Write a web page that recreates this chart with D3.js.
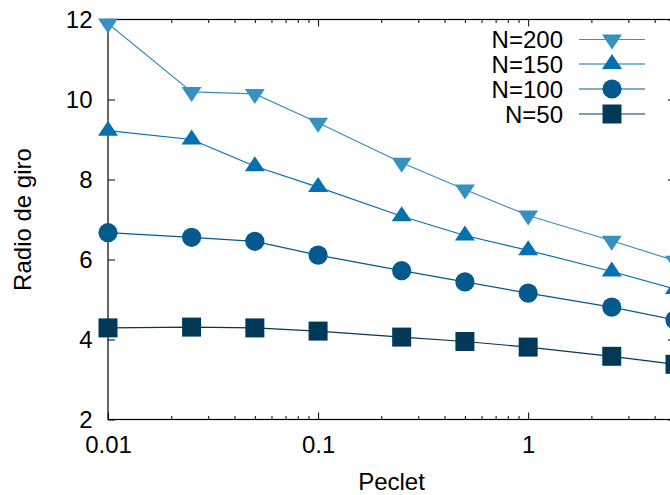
<!DOCTYPE html>
<html>
<head>
<meta charset="utf-8">
<script src="https://cdn.jsdelivr.net/npm/d3@7"></script>
<style>
  html, body { margin: 0; padding: 0; background: #fff; }
  svg { display: block; }
  text { font-family: "Liberation Sans", Arial, Helvetica, sans-serif; font-size: 24px; fill: #000; }
</style>
</head>
<body>
<svg id="chart" width="670" height="495"></svg>
<script>
// Peclet numbers (x) and radius of gyration for each chain length
const peclet = [0.01, 0.025, 0.05, 0.1, 0.25, 0.5, 1, 2.5, 5];
const rg200 = [11.9, 10.19, 10.14, 9.42, 8.42, 7.75, 7.10, 6.47, 5.97];
const rg150 = [9.22, 9.00, 8.33, 7.81, 7.08, 6.60, 6.23, 5.70, 5.26];
const rg100 = [6.67, 6.555, 6.455, 6.11, 5.72, 5.44, 5.16, 4.81, 4.49];
const rg50  = [4.29, 4.31, 4.29, 4.21, 4.06, 3.95, 3.81, 3.58, 3.38];

const seriesNames = ["N=200", "N=150", "N=100", "N=50"];
const seriesValues = [rg200, rg150, rg100, rg50];
const seriesColors = ["#3690c0", "#0570b0", "#045a8d", "#023858"];
const seriesSymbols = ["triangleDown", "triangleUp", "circle", "square"];

const xTickValues = [0.01, 0.1, 1];
const xTickLabels = ["0.01", "0.1", "1"];
const yTickValues = [2, 4, 6, 8, 10, 12];
const xDomain = [0.01, 5];
const yDomain = [2, 12];

const svg = d3.select("#chart");
const plotLeft = 108, plotRight = 675, plotTop = 19.5, plotBottom = 419.5;

const x = d3.scaleLog().domain(xDomain).range([plotLeft, plotRight]);
const y = d3.scaleLinear().domain(yDomain).range([plotBottom, plotTop]);

const xMinor = x.ticks().filter(v => !xTickValues.some(t => Math.abs(t - v) < 1e-9));

// marker shapes, centred on the data point
function symbolPath(kind) {
  switch (kind) {
    case "triangleDown": return "M0,10L-10,-5L10,-5Z";
    case "triangleUp":   return "M0,-10L-10,5L10,5Z";
    case "square":       return "M-9.5,-9.5H9.5V9.5H-9.5Z";
    default:             return d3.symbol(d3.symbolCircle, Math.PI * 9.6 * 9.6)();
  }
}

const axisStyle = g => {
  g.select(".domain").remove();
  g.selectAll("line").attr("stroke", "#000").attr("stroke-width", 1);
};
const plainText = g => g.selectAll("text").attr("font-size", null).attr("font-family", null);

// bottom axis: major ticks with labels, inward ticks
svg.append("g").attr("transform", `translate(0,${plotBottom})`)
  .call(d3.axisBottom(x).tickValues(xTickValues).tickFormat((d, i) => xTickLabels[i])
    .tickSize(-7).tickPadding(16.5))
  .call(axisStyle)
  .call(plainText);
svg.append("g").attr("transform", `translate(0,${plotBottom})`)
  .call(d3.axisBottom(x).tickValues(xMinor).tickFormat("").tickSize(-3.5))
  .call(axisStyle);
// top mirror ticks
svg.append("g").attr("transform", `translate(0,${plotTop})`)
  .call(d3.axisTop(x).tickValues(xTickValues).tickFormat("").tickSize(-7))
  .call(axisStyle);
svg.append("g").attr("transform", `translate(0,${plotTop})`)
  .call(d3.axisTop(x).tickValues(xMinor).tickFormat("").tickSize(-3.5))
  .call(axisStyle);

// left axis with labels, right mirror ticks
svg.append("g").attr("transform", `translate(${plotLeft},0)`)
  .call(d3.axisLeft(y).tickValues(yTickValues).tickFormat(d3.format("d"))
    .tickSize(-7).tickPadding(15.5))
  .call(axisStyle)
  .call(plainText);
svg.append("g").attr("transform", `translate(${plotRight},0)`)
  .call(d3.axisRight(y).tickValues(yTickValues).tickFormat("").tickSize(-7))
  .call(axisStyle);

// plot frame
svg.append("rect")
  .attr("x", plotLeft).attr("y", plotTop)
  .attr("width", plotRight - plotLeft).attr("height", plotBottom - plotTop)
  .attr("fill", "none").attr("stroke", "#000").attr("stroke-width", 1.2);

// axis titles
svg.append("text")
  .attr("x", (plotLeft + plotRight) / 2).attr("y", 490)
  .attr("text-anchor", "middle")
  .text("Peclet");
svg.append("text")
  .attr("transform", `translate(31,${(plotTop + plotBottom) / 2}) rotate(-90)`)
  .attr("text-anchor", "middle")
  .text("Radio de giro");

// series lines and markers
const line = d3.line().x(d => x(d[0])).y(d => y(d[1]));
seriesValues.forEach((vals, i) => {
  const pts = peclet.map((p, j) => [p, vals[j]]);
  const g = svg.append("g");
  g.append("path")
    .attr("d", line(pts))
    .attr("fill", "none")
    .attr("stroke", seriesColors[i])
    .attr("stroke-width", 1.2);
  g.selectAll("path.mark").data(pts).join("path")
    .attr("class", "mark")
    .attr("transform", d => `translate(${x(d[0])},${y(d[1])})`)
    .attr("d", symbolPath(seriesSymbols[i]))
    .attr("fill", seriesColors[i]);
});

// legend
const legendY = [39.5, 64, 89, 114];
seriesNames.forEach((name, i) => {
  const ly = legendY[i];
  svg.append("text")
    .attr("x", 563).attr("y", ly)
    .attr("dy", "0.36em")
    .attr("text-anchor", "end")
    .text(name);
  svg.append("line")
    .attr("x1", 579).attr("x2", 645).attr("y1", ly).attr("y2", ly)
    .attr("stroke", seriesColors[i]).attr("stroke-width", 1.2);
  svg.append("path")
    .attr("transform", `translate(612,${ly})`)
    .attr("d", symbolPath(seriesSymbols[i]))
    .attr("fill", seriesColors[i]);
});
</script>
</body>
</html>
